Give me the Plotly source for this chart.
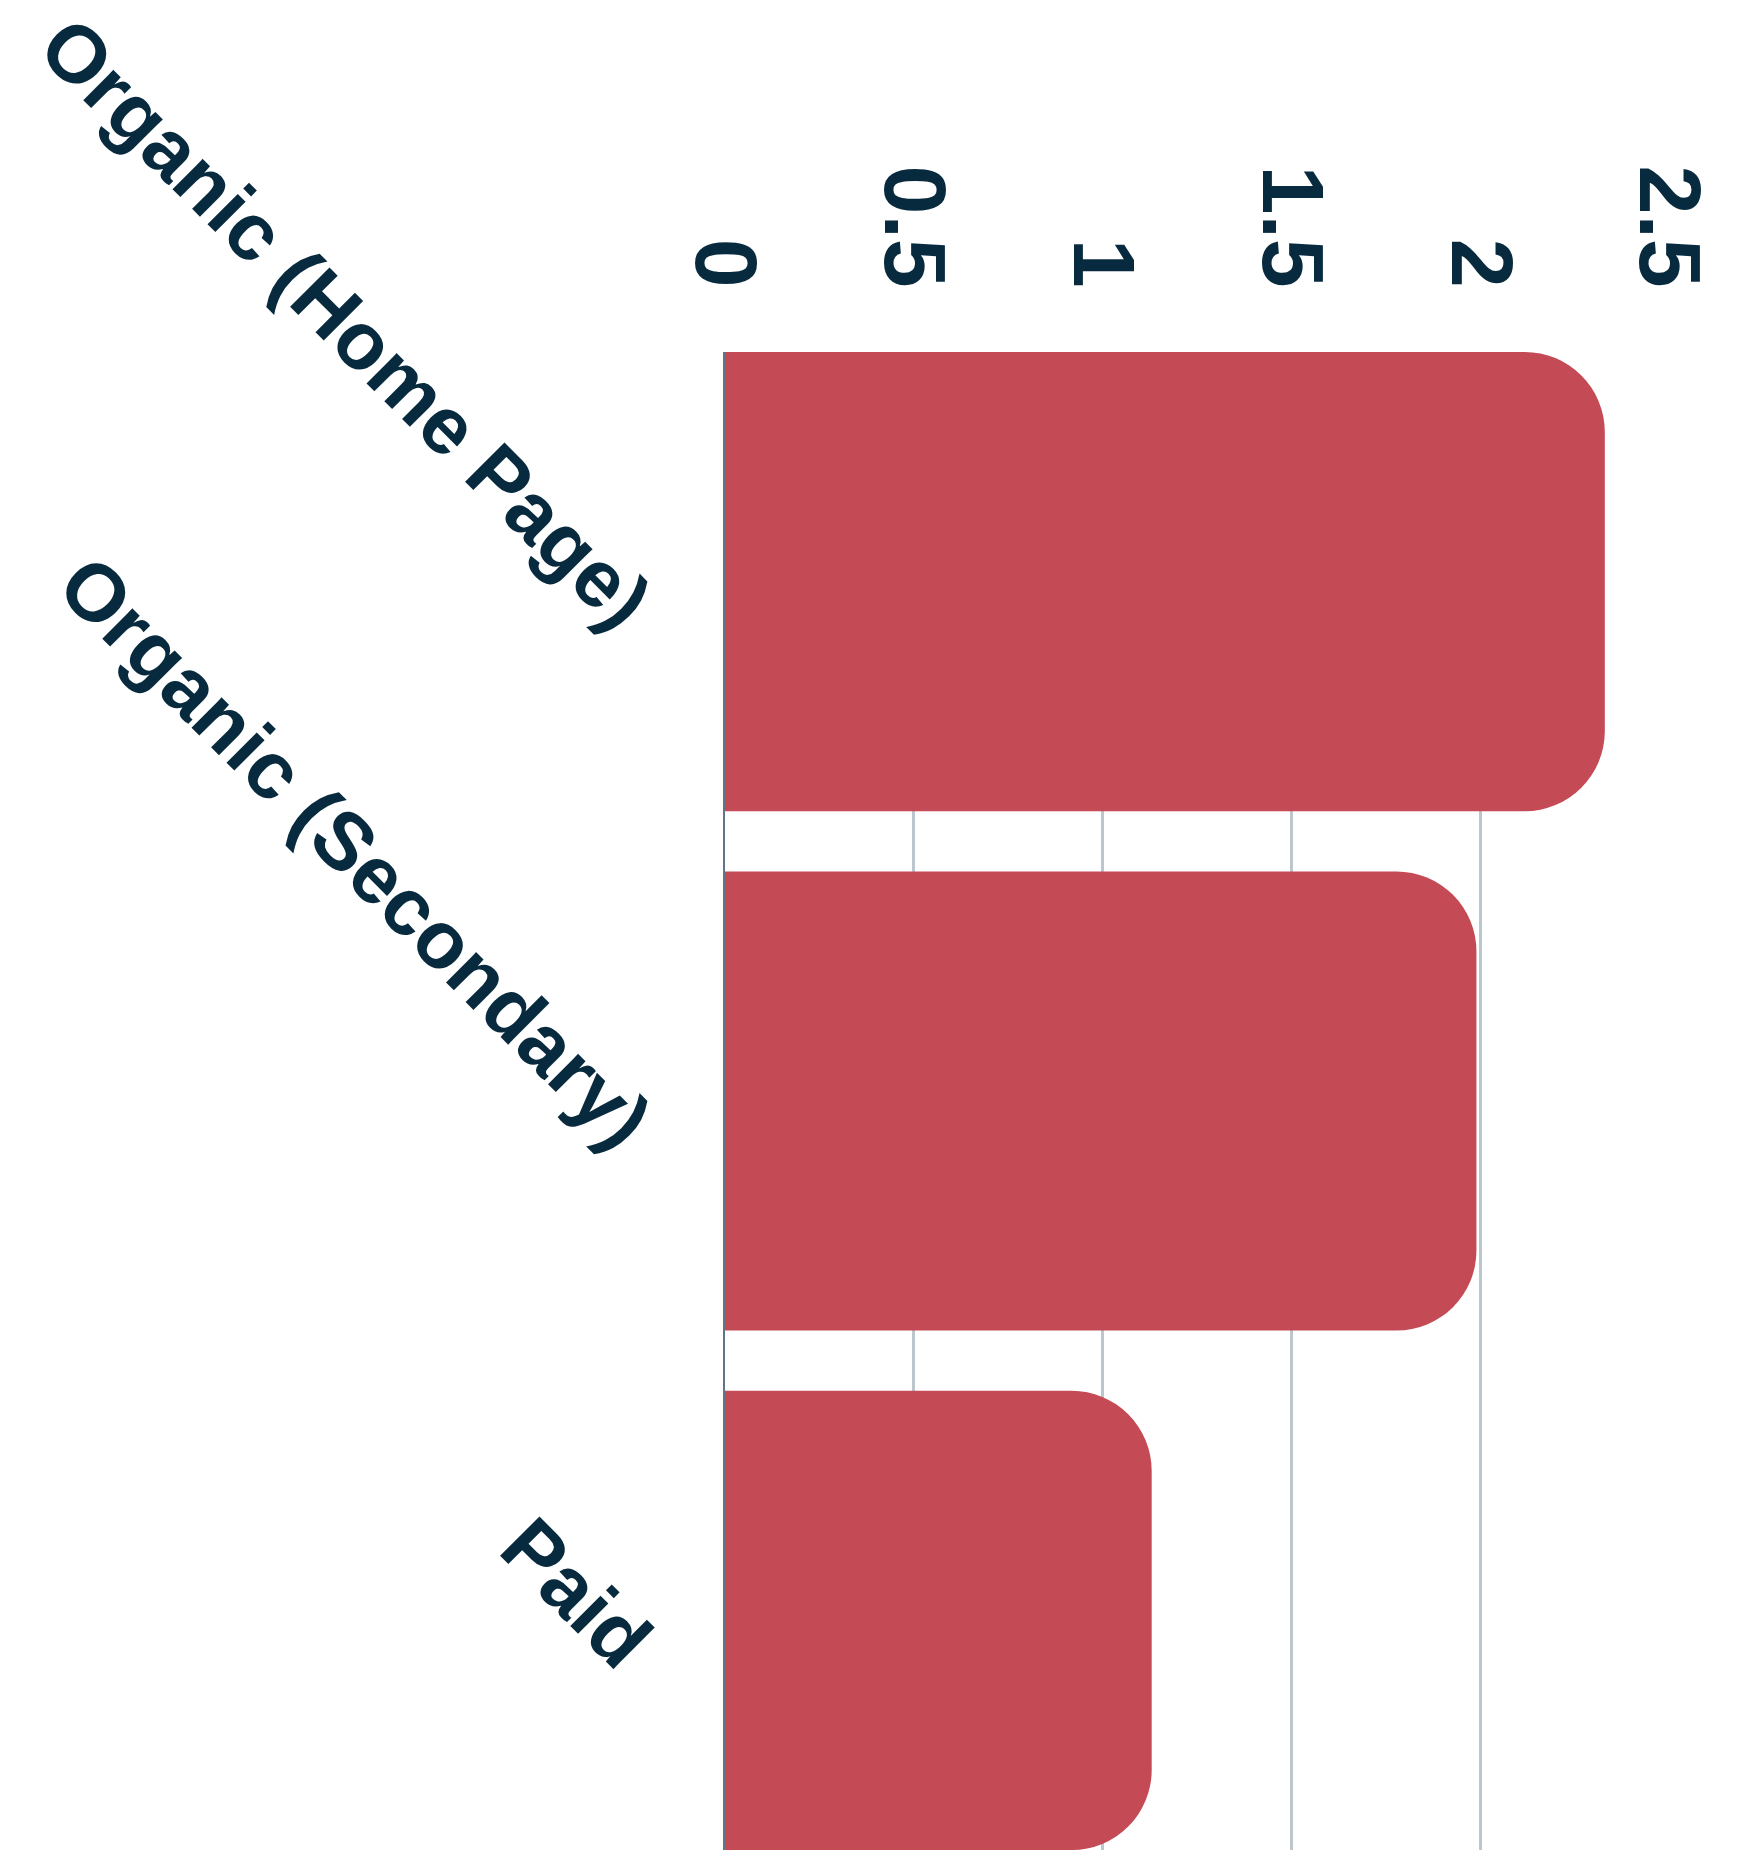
import plotly.graph_objects as go

# Traffic source values
categories = ["Organic (Home Page)", "Organic (Secondary)", "Paid"]
values = [2.33, 1.99, 1.13]
x_tick_values = [0, 0.5, 1, 1.5, 2, 2.5]
x_tick_labels = ["0", "0.5", "1", "1.5", "2", "2.5"]

TEXT = "#082a3e"
BAR = "#c44a55"
GRID = "#bcc6cd"
AXIS = "#5f7686"
FONT = "Liberation Sans, Arial, sans-serif"

fig = go.Figure(
    go.Bar(
        x=values,
        y=categories,
        orientation="h",
        marker=dict(color=BAR, line=dict(width=0)),
        hoverinfo="skip",
    )
)

bargap = 0.116
fig.update_layout(
    width=1753,
    height=1850,
    margin=dict(l=725, r=84, t=352, b=0),
    paper_bgcolor="white",
    plot_bgcolor="white",
    bargap=bargap,
    barcornerradius=80,
    showlegend=False,
    font=dict(family=FONT, color=TEXT),
)

fig.update_xaxes(
    side="top",
    range=[0, 2.5],
    tickvals=x_tick_values,
    ticktext=x_tick_labels,
    tickangle=90,
    tickfont=dict(family=FONT, size=88, color=TEXT, weight="bold"),
    ticklabelstandoff=50,
    showgrid=True,
    gridcolor=GRID,
    gridwidth=2.5,
    zeroline=False,
    showline=False,
    ticks="",
    automargin=False,
)

fig.update_yaxes(
    type="category",
    categoryorder="array",
    categoryarray=categories,
    range=[len(categories) - 0.5 - bargap / 2, -0.5 + bargap / 2],
    tickangle=45,
    tickfont=dict(family=FONT, size=81, color=TEXT, weight="bold"),
    ticklabelstandoff=61,
    ticklabelshift=-36,
    showgrid=False,
    zeroline=False,
    showline=True,
    linecolor=AXIS,
    linewidth=2,
    ticks="",
    automargin=False,
)

fig.write_html("out.html")
